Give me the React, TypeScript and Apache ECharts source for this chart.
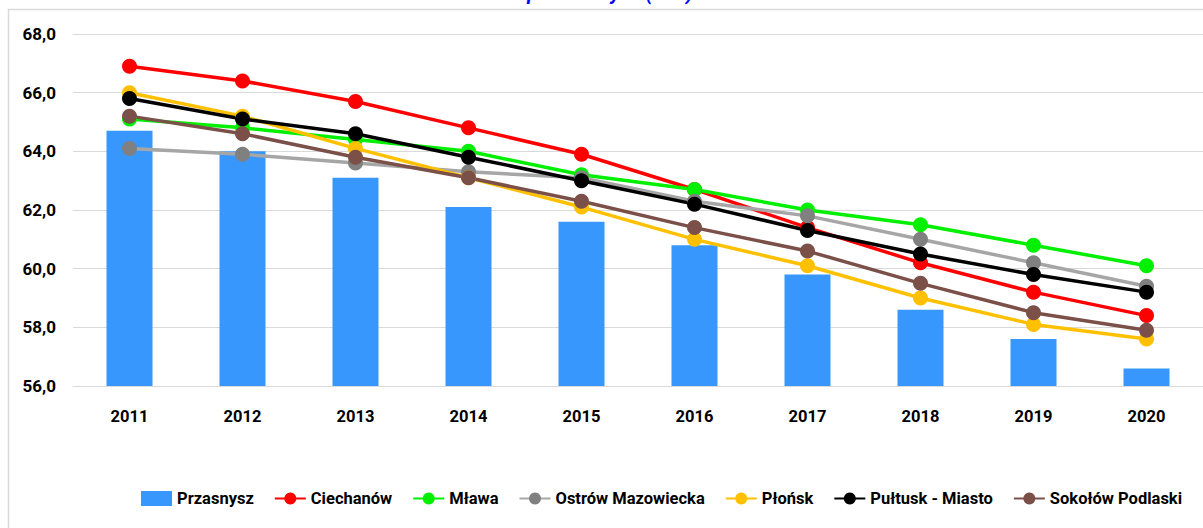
import React, { useEffect, useRef } from "react";
import * as echarts from "echarts";

const years = ["2011", "2012", "2013", "2014", "2015", "2016", "2017", "2018", "2019", "2020"];
const przasnysz = [64.7, 64.0, 63.1, 62.1, 61.6, 60.8, 59.8, 58.6, 57.6, 56.6];
const ciechanow = [66.9, 66.4, 65.7, 64.8, 63.9, 62.7, 61.4, 60.2, 59.2, 58.4];
const mlawa = [65.1, 64.8, 64.4, 64.0, 63.2, 62.7, 62.0, 61.5, 60.8, 60.1];
const ostrow = [64.1, 63.9, 63.6, 63.3, 63.1, 62.3, 61.8, 61.0, 60.2, 59.4];
const plonsk = [66.0, 65.2, 64.1, 63.1, 62.1, 61.0, 60.1, 59.0, 58.1, 57.6];
const pultusk = [65.8, 65.1, 64.6, 63.8, 63.0, 62.2, 61.3, 60.5, 59.8, 59.2];
const sokolow = [65.2, 64.6, 63.8, 63.1, 62.3, 61.4, 60.6, 59.5, 58.5, 57.9];
const titleText = "powiatowych (w %)";

const FONT = "Roboto, 'Liberation Sans', sans-serif";

function lineSeries(name: string, data: number[], lineColor: string, markerColor: string) {
  return {
    name,
    type: "line",
    data,
    symbol: "circle",
    symbolSize: 15,
    itemStyle: { color: markerColor },
    lineStyle: { color: lineColor, width: 3.5 },
    z: 3,
  };
}

export default function App() {
  const ref = useRef<HTMLDivElement>(null);
  useEffect(() => {
    if (!ref.current) return;
    const chart = echarts.init(ref.current, null, { renderer: "svg" });
    chart.setOption({
      animation: false,
      backgroundColor: "#ffffff",
      graphic: [
        {
          type: "rect",
          shape: { x: 8.5, y: 9.5, width: 1400, height: 700 },
          style: { fill: "none", stroke: "#d9d9d9", lineWidth: 1.5 },
          silent: true,
        },
        {
          type: "text",
          x: 610,
          y: 3,
          style: {
            text: titleText,
            font: "italic bold 20px " + FONT,
            fill: "#0000ff",
            align: "center",
            verticalAlign: "bottom",
          },
        },
      ],
      grid: { left: 73, right: 0, top: 34, bottom: 142 },
      legend: {
        left: 136,
        top: 485,
        itemWidth: 31,
        itemHeight: 15,
        itemGap: 20,
        textStyle: { fontFamily: FONT, fontWeight: "bold", fontSize: 16.5, color: "#000" },
        data: [
          { name: "Przasnysz", icon: "rect" },
          "Ciechanów",
          "Mława",
          "Ostrów Mazowiecka",
          "Płońsk",
          "Pułtusk - Miasto",
          "Sokołów Podlaski",
        ],
      },
      xAxis: {
        type: "category",
        data: years,
        axisLine: { show: true, lineStyle: { color: "#d9d9d9", width: 1 } },
        axisTick: { show: false },
        axisLabel: { margin: 22, fontFamily: FONT, fontWeight: "bold", fontSize: 16.5, color: "#000" },
      },
      yAxis: {
        type: "value",
        min: 56,
        max: 68,
        interval: 2,
        axisLine: { show: false },
        axisTick: { show: false },
        splitLine: { lineStyle: { color: "#d9d9d9", width: 1 } },
        axisLabel: {
          margin: 17,
          fontFamily: FONT,
          fontWeight: "bold",
          fontSize: 17,
          color: "#000",
          formatter: (v: number) => v.toFixed(1).replace(".", ","),
        },
      },
      series: [
        {
          name: "Przasnysz",
          type: "bar",
          data: przasnysz,
          barWidth: 46,
          itemStyle: { color: "#3797fc" },
          z: 2,
        },
        lineSeries("Ciechanów", ciechanow, "#ff0000", "#ff0000"),
        lineSeries("Mława", mlawa, "#00f000", "#00f000"),
        lineSeries("Ostrów Mazowiecka", ostrow, "#a6a6a6", "#808080"),
        lineSeries("Płońsk", plonsk, "#ffc000", "#ffc000"),
        lineSeries("Pułtusk - Miasto", pultusk, "#000000", "#000000"),
        lineSeries("Sokołów Podlaski", sokolow, "#7b5048", "#7b5048"),
      ],
    });
    return () => chart.dispose();
  }, []);
  return (
    <div
      ref={ref}
      style={{ position: "fixed", left: 0, top: 0, width: 1203, height: 528 }}
    />
  );
}
